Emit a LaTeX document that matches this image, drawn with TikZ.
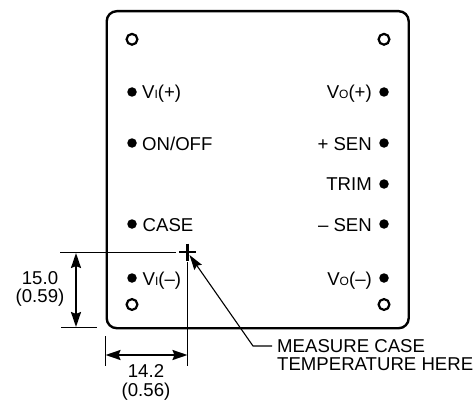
\documentclass[tikz,border=0pt]{standalone}
\usepackage{fontspec}
\setmainfont{Liberation Sans}
\usetikzlibrary{arrows.meta}
\newcommand{\lowsub}[1]{{\fontsize{12}{12}\selectfont #1}}
\tikzset{
  x=1pt,y=-1pt,
  lbl/.style={inner sep=0pt,font=\fontsize{18.6}{18.5}\selectfont},
  two/.style={lbl,align=center},
  pin/.style={circle,fill=black,inner sep=0pt,minimum size=9.5pt},
  hole/.style={circle,draw=black,line width=2.2pt,fill=white,inner sep=0pt,minimum size=10.8pt},
  case/.style={draw=black,line width=2.4pt,rounded corners=10pt},
  thin line/.style={draw=black,line width=1pt},
  dim/.style={draw=black,line width=2pt,{Stealth[length=15pt,width=10pt,inset=2pt]}-{Stealth[length=15pt,width=10pt,inset=2pt]}},
  lead/.style={draw=black,line width=1.1pt,{Stealth[length=15pt,width=9pt,inset=2pt]}-},
}
\begin{document}
\begin{tikzpicture}
\useasboundingbox (0,0) rectangle (476,401);
\node[case,minimum width=302pt,minimum height=317pt,anchor=north west,inner sep=0pt] (box) at (105.5,10) {};
\node[hole] (h1) at (132,39.3) {};
\node[hole] (h2) at (384,39.3) {};
\node[hole] (h3) at (132,304.5) {};
\node[hole] (h4) at (384,304.5) {};
\node[pin] (p1) at (132,92) {};
\node[pin] (p2) at (132,143) {};
\node[pin] (p3) at (132,224) {};
\node[pin] (p4) at (132,278) {};
\node[pin] (p5) at (384,92) {};
\node[pin] (p6) at (384,143) {};
\node[pin] (p7) at (384,184) {};
\node[pin] (p8) at (384,224) {};
\node[pin] (p9) at (384,278) {};
\node[lbl,anchor=base west] (t1) at (142,98.5) {V\lowsub{I}(+)};
\node[lbl,anchor=base west] (t2) at (142,150) {ON/OFF};
\node[lbl,anchor=base west] (t3) at (142.5,231) {CASE};
\node[lbl,anchor=base west] (t4) at (142.5,285.5) {V\lowsub{I}(–)};
\node[lbl,anchor=base east] (t5) at (372,98.5) {V\lowsub{O}(+)};
\node[lbl,anchor=base east] (t6) at (372,150) {+ SEN};
\node[lbl,anchor=base east] (t7) at (372,190.5) {TRIM};
\node[lbl,anchor=base east] (t8) at (372,231) {– SEN};
\node[lbl,anchor=base east] (t9) at (372,285.5) {V\lowsub{O}(–)};
\node[two] (d1) at (40,289) {15.0\\(0.59)};
\node[two] (d2) at (146,382.5) {14.2\\(0.56)};
\node[two,align=left,anchor=west] (m) at (277,355) {MEASURE CASE\\TEMPERATURE HERE};
\coordinate (cross) at (187.5,252);
\draw[line width=2.6pt] (179,252) -- (196,252) (187.5,243.5) -- (187.5,260.5);
\coordinate (e1a) at (60,252); \coordinate (e1b) at (176,252);
\coordinate (e2a) at (61,327); \coordinate (e2b) at (97,327);
\coordinate (e3a) at (187.5,262); \coordinate (e3b) at (187.5,366);
\coordinate (e4a) at (105.5,336); \coordinate (e4b) at (105.5,366);
\draw[thin line] (e1a) -- (e1b);
\draw[thin line] (e2a) -- (e2b);
\draw[thin line] (e3a) -- (e3b);
\draw[thin line] (e4a) -- (e4b);
\coordinate (va) at (76,253); \coordinate (vb) at (76,327);
\coordinate (ha) at (105.5,355); \coordinate (hb) at (187.5,355);
\draw[dim] (va) -- (vb);
\draw[dim] (ha) -- (hb);
\coordinate (la) at (189.5,255); \coordinate (lb) at (253,346); \coordinate (lc) at (272,346);
\draw[lead] (la) -- (lb) -- (lc);
\end{tikzpicture}
\end{document}
